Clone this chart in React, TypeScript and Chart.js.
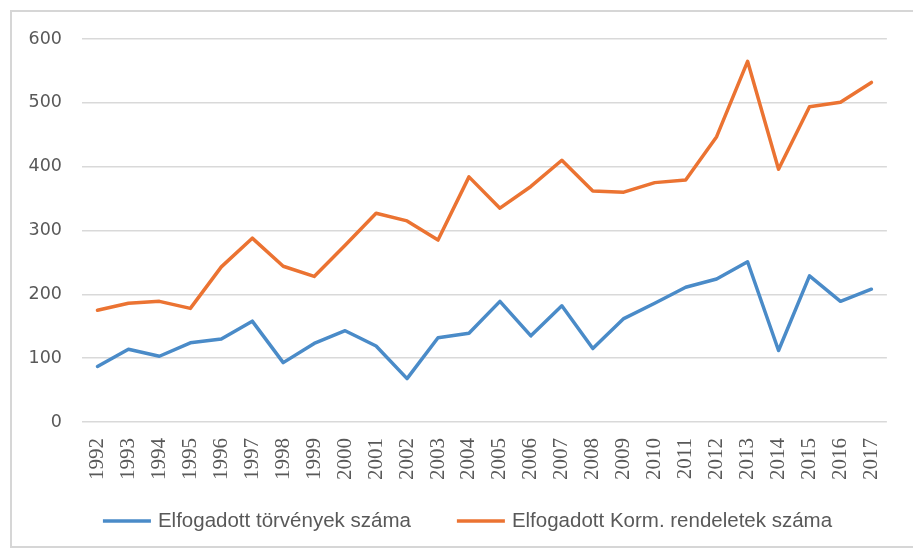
import { useEffect, useRef } from "react";
import { Chart, registerables } from "chart.js";

Chart.register(...registerables);

const years = [
  "1992", "1993", "1994", "1995", "1996", "1997", "1998", "1999", "2000",
  "2001", "2002", "2003", "2004", "2005", "2006", "2007", "2008", "2009",
  "2010", "2011", "2012", "2013", "2014", "2015", "2016", "2017",
];

const lawsCount = [
  87, 114, 103, 124, 130, 158, 93, 123, 143, 119, 68, 132, 139, 189, 135, 182,
  115, 162, 186, 211, 224, 251, 112, 229, 189, 208,
];

const decreesCount = [
  175, 186, 189, 178, 243, 288, 244, 228, 277, 327, 315, 285, 384, 335, 369,
  410, 362, 360, 375, 379, 447, 565, 396, 494, 501, 532,
];

const seriesLabels = ["Elfogadott törvények száma", "Elfogadott Korm. rendeletek száma"];
const seriesColors = ["#4A8BC8", "#EB7332"];

const yMin = 0;
const yMax = 600;
const yStep = 100;

const TEXT_COLOR = "#595959";
const GRID_COLOR = "#d9d9d9";
const LEGEND_FONT = "20.5px 'Liberation Sans', Arial, sans-serif";

const framePlugin = {
  id: "frame",
  beforeDraw(chart: any) {
    const ctx = chart.ctx;
    ctx.save();
    ctx.fillStyle = "#ffffff";
    ctx.fillRect(0, 0, chart.width, chart.height);
    ctx.strokeStyle = "#d6d6d6";
    ctx.lineWidth = 2;
    ctx.strokeRect(11, 11, chart.width + 10, 536);
    ctx.restore();
  },
};

const lineLegendPlugin = {
  id: "lineLegend",
  afterDraw(chart: any) {
    const ctx = chart.ctx;
    ctx.save();
    ctx.font = LEGEND_FONT;
    const lineLen = 48;
    const gap = 7;
    const itemGap = 46;
    const items = chart.data.datasets.map((ds: any) => ({
      label: ds.label as string,
      color: ds.borderColor as string,
      w: ctx.measureText(ds.label).width,
    }));
    const total =
      items.reduce((s: number, it: any) => s + lineLen + gap + it.w, 0) +
      itemGap * (items.length - 1);
    let x = chart.width / 2 + 11 - total / 2;
    const y = 521;
    ctx.textBaseline = "middle";
    ctx.textAlign = "left";
    for (const it of items) {
      ctx.strokeStyle = it.color;
      ctx.lineWidth = 3.5;
      ctx.beginPath();
      ctx.moveTo(x, y);
      ctx.lineTo(x + lineLen, y);
      ctx.stroke();
      x += lineLen + gap;
      ctx.fillStyle = TEXT_COLOR;
      ctx.fillText(it.label, x, y);
      x += it.w + itemGap;
    }
    ctx.restore();
  },
};

export default function App() {
  const ref = useRef<HTMLCanvasElement | null>(null);

  useEffect(() => {
    if (!ref.current) return;
    const chart = new Chart(ref.current, {
      type: "line",
      data: {
        labels: years,
        datasets: [
          {
            label: seriesLabels[0],
            data: lawsCount,
            borderColor: seriesColors[0],
            backgroundColor: seriesColors[0],
            borderWidth: 3.5,
            pointRadius: 0,
            tension: 0,
            borderJoinStyle: "round",
            borderCapStyle: "round",
          },
          {
            label: seriesLabels[1],
            data: decreesCount,
            borderColor: seriesColors[1],
            backgroundColor: seriesColors[1],
            borderWidth: 3.5,
            pointRadius: 0,
            tension: 0,
            borderJoinStyle: "round",
            borderCapStyle: "round",
          },
        ],
      },
      options: {
        responsive: false,
        animation: false,
        layout: { padding: { left: 0, right: 20, top: 39, bottom: 62 } },
        plugins: {
          legend: { display: false },
          tooltip: { enabled: false },
        },
        scales: {
          x: {
            type: "category",
            offset: true,
            grid: { display: false, drawTicks: false },
            border: { display: false },
            ticks: {
              minRotation: 90,
              maxRotation: 90,
              autoSkip: false,
              padding: 16,
              color: TEXT_COLOR,
              font: { family: "'Liberation Serif', serif", size: 21 },
            },
            afterFit(scale: any) {
              scale.height = 70;
            },
          },
          y: {
            min: yMin,
            max: yMax,
            border: { display: false },
            grid: { color: GRID_COLOR, lineWidth: 1.5, drawTicks: false },
            ticks: {
              stepSize: yStep,
              padding: 20,
              color: TEXT_COLOR,
              font: { family: "'DejaVu Sans', sans-serif", size: 17.5 },
            },
            afterFit(scale: any) {
              scale.width = 82;
            },
          },
        },
      },
      plugins: [framePlugin, lineLegendPlugin],
    });
    return () => chart.destroy();
  }, []);

  return (
    <div style={{ position: "fixed", left: 0, top: 0, width: 913, height: 554, background: "#fff" }}>
      <canvas ref={ref} width={913} height={554} style={{ display: "block" }} />
    </div>
  );
}
